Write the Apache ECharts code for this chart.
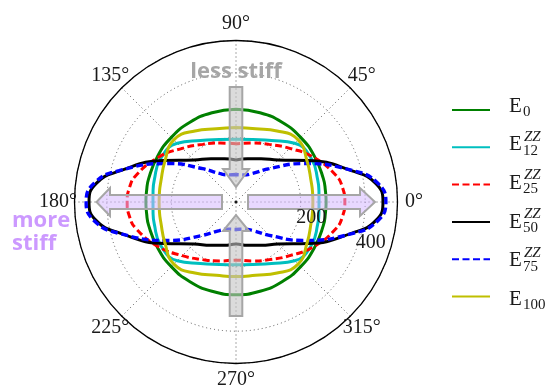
<!DOCTYPE html>
<html><head><meta charset="utf-8">
<script src="https://cdn.jsdelivr.net/npm/echarts@6/dist/echarts.min.js"></script>
<style>html,body{margin:0;padding:0;background:#fff}#c{width:552px;height:387px}</style>
</head><body><div id="c"></div>
<script>
// polar angles (degrees) of the sampled points; loop starts and ends at 90°
const theta = [90,105,120,135,150,165,172.5,180,187.5,195,210,225,240,255,270,285,300,315,330,345,352.5,0,7.5,15,30,45,60,75,90];
const E0    = [287,286,285,283,281,280,279,279,279,280,281,283,285,286,287,286,285,283,281,280,279,279,279,280,281,283,285,286,287];
const E12   = [194,200,220,257,269,262,259,257,259,262,269,257,220,200,194,200,220,257,269,262,259,257,259,262,269,257,220,200,194];
const E25   = [180,189,206,235,277,320,333,337,333,320,277,235,206,189,180,189,206,235,277,320,333,337,333,320,277,235,206,189,180];
const E50   = [130,139,155,184,257,372,437,455,437,372,257,184,155,139,130,139,155,184,257,372,437,455,437,372,257,184,155,139,130];
const E75   = [85,87,102,146,238,375,443,464,443,375,238,146,102,87,85,87,102,146,238,375,443,464,443,375,238,146,102,87,85];
const E100  = [231,235,254,272,254,241,239,238,239,241,254,272,254,235,231,235,254,272,254,241,239,238,239,241,254,272,254,235,231];

const seriesNames = ['E0','E12','E25','E50','E75','E100'];
const seriesData  = [E0, E12, E25, E50, E75, E100];
const legendSub   = ['0','12','25','50','75','100'];
const legendSup   = ['', 'ZZ','ZZ','ZZ','ZZ',''];
const angleTicks  = [0,45,90,135,180,225,270,315];
const radialTicks = [200, 400];
const rMax = 500;

const colors = ['#008000','#00bfbf','#ff0000','#000000','#0000ff','#bfbf00'];
const dashes = ['solid','solid',[7,3.5],'solid',[7,3.5],'solid'];
const widths = [3,3,3,3,3.4,3];

const chart = echarts.init(document.getElementById('c'), null, {renderer:'canvas'});
const CX = 236, CY = 202, R = 161.5;
const serif = 'Liberation Serif';

const series = seriesNames.map((n,i)=>({
  type:'line', name:n, coordinateSystem:'polar',
  data: theta.map((t,k)=>[seriesData[i][k], t]),
  smooth:0.5, symbol:'none', showSymbol:false, animation:false,
  lineStyle:{color:colors[i], width:widths[i], type:dashes[i]},
  itemStyle:{color:colors[i]}, z: 3+i
}));
series.push({type:'scatter', name:'origin', coordinateSystem:'polar', data:[[0,0]],
  symbolSize:3, itemStyle:{color:'#000'}, silent:true, z:2});

const legendTop = 98, itemH = 14, itemGap = 24.7;

chart.setOption({
  animation:false,
  textStyle:{fontFamily:serif},
  polar:{center:[CX,CY], radius:R},
  angleAxis:{
    type:'value', min:0, max:360, interval:45, startAngle:0, clockwise:false,
    axisLine:{show:true, lineStyle:{color:'#000', width:1.3}},
    axisTick:{show:false},
    axisLabel:{show:false},
    splitLine:{show:true, lineStyle:{color:'#555', width:1, type:[1,3]}}
  },
  radiusAxis:{
    type:'value', min:0, max:rMax, interval:200,
    axisLine:{show:false}, axisTick:{show:false}, axisLabel:{show:false},
    splitLine:{show:true, lineStyle:{color:'#555', width:1, type:[1,3]}}
  },
  legend:{
    orient:'vertical', left:446, top:legendTop, itemWidth:38, itemHeight:itemH, itemGap:itemGap,
    formatter:()=>'', selectedMode:false, data:seriesNames,
    itemStyle:{opacity:0},
    textStyle:{fontSize:1}
  },
  series
});

// positions from the polar coordinate system
const c = chart.convertToPixel({polarIndex:0}, [0, 0]);
const cx = c[0], cy = c[1];
const g = [];

// angle tick labels, centred just outside the outer circle
angleTicks.forEach(a=>{
  const p = chart.convertToPixel({polarIndex:0}, [551, a]);
  g.push({type:'text', x:p[0], y:p[1], z:50,
    style:{text:a+'°', fontFamily:serif, fontSize:20, fill:'#1a1a1a', align:'center', verticalAlign:'middle', textAlign:'center', textVerticalAlign:'middle'}});
});

// radial tick labels along -22.5°
radialTicks.forEach(r=>{
  const p = chart.convertToPixel({polarIndex:0}, [r, 337.5]);
  g.push({type:'text', x:p[0]+0.5, y:p[1]+1, z:50,
    style:{text:String(r), fontFamily:serif, fontSize:20, fill:'#1a1a1a', align:'left', verticalAlign:'bottom', textAlign:'left', textVerticalAlign:'bottom'}});
});

// arrows (annotation)
const grayStroke = '#a6a6a6';
function poly(pts, fill){
  return {type:'polygon', z:40, shape:{points:pts.map(p=>[cx+p[0], cy+p[1]])},
    style:{fill:fill, stroke:grayStroke, lineWidth:2}};
}
const vFill = 'rgba(195,195,195,0.6)';
const hFill = 'rgba(214,184,255,0.55)';
g.push(poly([[-6.3,-115],[6.3,-115],[6.3,-33],[13,-33],[0,-15],[-13,-33],[-6.3,-33]], vFill));
g.push(poly([[-6.3,114],[6.3,114],[6.3,29],[13,29],[0,13],[-13,29],[-6.3,29]], vFill));
g.push(poly([[12,-7],[124,-7],[124,-14],[139,0],[124,14],[124,7],[12,7]], hFill));
g.push(poly([[-14,-7],[-126,-7],[-126,-14],[-139.5,0],[-126,14],[-126,7],[-14,7]], hFill));

g.push({type:'text', x:cx, y:83, z:60,
  style:{text:'less stiff', fontFamily:'Open Sans', fontWeight:'bold', fontSize:22, fill:'#a6a6a6', align:'center', verticalAlign:'bottom', textAlign:'center', textVerticalAlign:'bottom'}});
g.push({type:'text', x:12, y:232, z:60,
  style:{text:'more\nstiff', fontFamily:'Open Sans', fontWeight:'bold', fontSize:22, fill:'#cc99ff', align:'left', verticalAlign:'middle', textAlign:'left', textVerticalAlign:'middle', lineHeight:23}});

// legend labels
seriesNames.forEach((n,i)=>{
  const y = legendTop + i*(itemH+itemGap) + itemH/2;
  g.push({type:'text', x:509, y:y+1, z:60,
    style:{text:'E', fontFamily:serif, fontSize:21, fill:'#1a1a1a', align:'left', verticalAlign:'middle', textAlign:'left', textVerticalAlign:'middle'}});
  g.push({type:'text', x:523, y:y+7, z:60,
    style:{text:legendSub[i], fontFamily:serif, fontSize:15, fill:'#1a1a1a', align:'left', verticalAlign:'middle', textAlign:'left', textVerticalAlign:'middle'}});
  if (legendSup[i]) g.push({type:'text', x:524, y:y-7, z:60,
    style:{text:legendSup[i], fontFamily:serif, fontStyle:'italic', fontSize:15, fill:'#1a1a1a', align:'left', verticalAlign:'middle', textAlign:'left', textVerticalAlign:'middle'}});
});

chart.setOption({graphic:g});
</script></body></html>
